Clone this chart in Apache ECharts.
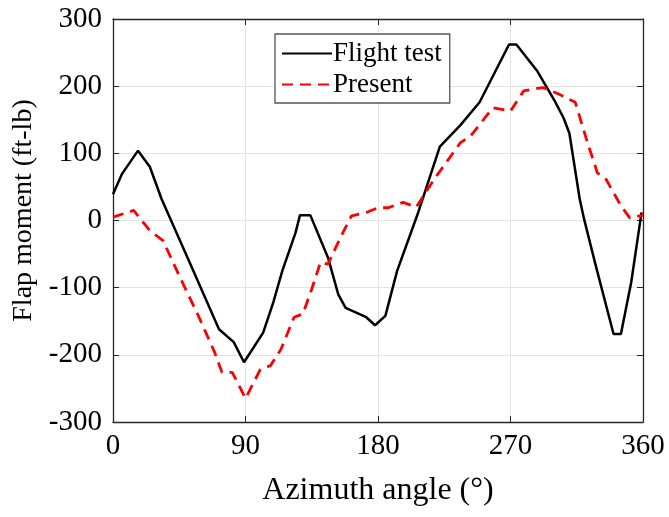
<!DOCTYPE html>
<html><head><meta charset="utf-8">
<script src="https://cdn.jsdelivr.net/npm/echarts@6/dist/echarts.min.js"></script>
<style>html,body{margin:0;padding:0;background:#fff}#c{width:669px;height:517px}</style>
</head><body><div id="c"></div>
<script>
const flightAngle = [0,6,17,25,33,52,72,82,89,102,109,115,124,127,134,146,153,158,172,178,185,193,207,222,236,249,269,274,288,300,306,310,317,320,328,340,345,352,359];
const flightValue = [39,69,104,80,32,-62,-162,-181,-211,-167,-121,-75,-18,8,8,-55,-110,-130,-144,-156,-142,-75,10,110,142,176,262,262,223,178,153,130,32,2,-68,-169,-169,-92,12];
const presentAngle = [0,14,25,34,46,58,69,74,81,90,100,107,114,123,129,135,141,146,155,162,172,180,187,197,206,218,236,243,258,270,279,292,303,314,322,329,335,345,351,360];
const presentValue = [5,15,-15,-30,-87,-142,-196,-226,-226,-265,-222,-216,-192,-144,-139,-102,-62,-65,-23,7,12,19,19,27,20,61,116,126,168,163,193,198,188,176,118,71,61,22,4,8];
const xTicks = [0,90,180,270,360];
const yTicks = [-300,-200,-100,0,100,200,300];

const zip = (a,b)=>a.map((v,i)=>[v,b[i]]);
const font = 'Liberation Serif, Times New Roman, serif';
const axisCol = '#262626';
const baseAxis = {
  type:'value',
  axisLine:{show:true,onZero:false,lineStyle:{color:axisCol,width:1.3}},
  axisTick:{show:true,inside:true,length:6,lineStyle:{color:axisCol}}
};
const chart = echarts.init(document.getElementById('c'));
chart.setOption({
  animation:false,
  grid:{left:113,right:26,top:19,bottom:95,containLabel:false},
  legend:{
    data:[{name:'Flight test'},{name:'Present'}],
    orient:'vertical', left:275, top:34,
    itemWidth:50, itemHeight:14, itemGap:2,
    padding:[5,8,4,6],
    borderColor:'#555', borderWidth:1.3, backgroundColor:'#fff',
    textStyle:{fontFamily:font,fontSize:27,lineHeight:29,color:'#000',padding:[0,0,0,-4]},
    itemStyle:{opacity:0}
  },
  xAxis:[Object.assign({},baseAxis,{
    min:xTicks[0],max:xTicks[xTicks.length-1],interval:xTicks[1]-xTicks[0],
    name:'Azimuth angle (°)',nameLocation:'middle',nameGap:53,
    nameTextStyle:{fontFamily:font,fontSize:32,color:'#000'},
    axisLabel:{fontFamily:font,fontSize:29,color:'#000',margin:10},
    splitLine:{show:true,lineStyle:{color:'#e3e3e3',width:1}}
  }),Object.assign({},baseAxis,{
    min:xTicks[0],max:xTicks[xTicks.length-1],interval:xTicks[1]-xTicks[0],position:'top',
    axisLabel:{show:false},splitLine:{show:false}
  })],
  yAxis:[Object.assign({},baseAxis,{
    min:yTicks[0],max:yTicks[yTicks.length-1],interval:yTicks[1]-yTicks[0],
    name:'Flap moment (ft-lb)',nameLocation:'middle',nameGap:74,
    nameTextStyle:{fontFamily:font,fontSize:28,color:'#000',padding:[0,0,0,20]},
    axisLabel:{fontFamily:font,fontSize:29,color:'#000',margin:11},
    splitLine:{show:true,lineStyle:{color:'#e3e3e3',width:1}}
  }),Object.assign({},baseAxis,{
    min:yTicks[0],max:yTicks[yTicks.length-1],interval:yTicks[1]-yTicks[0],position:'right',
    axisLabel:{show:false},splitLine:{show:false}
  })],
  series:[{
    name:'Flight test',type:'line',data:zip(flightAngle,flightValue),
    showSymbol:false,symbol:'none',
    lineStyle:{color:'#000',width:2.5},itemStyle:{color:'#000'}
  },{
    name:'Present',type:'line',data:zip(presentAngle,presentValue),
    showSymbol:false,symbol:'none',
    lineStyle:{color:'#ff0000',width:2.8,type:[11,7]},itemStyle:{color:'#ff0000'}
  }]
});
</script></body></html>
